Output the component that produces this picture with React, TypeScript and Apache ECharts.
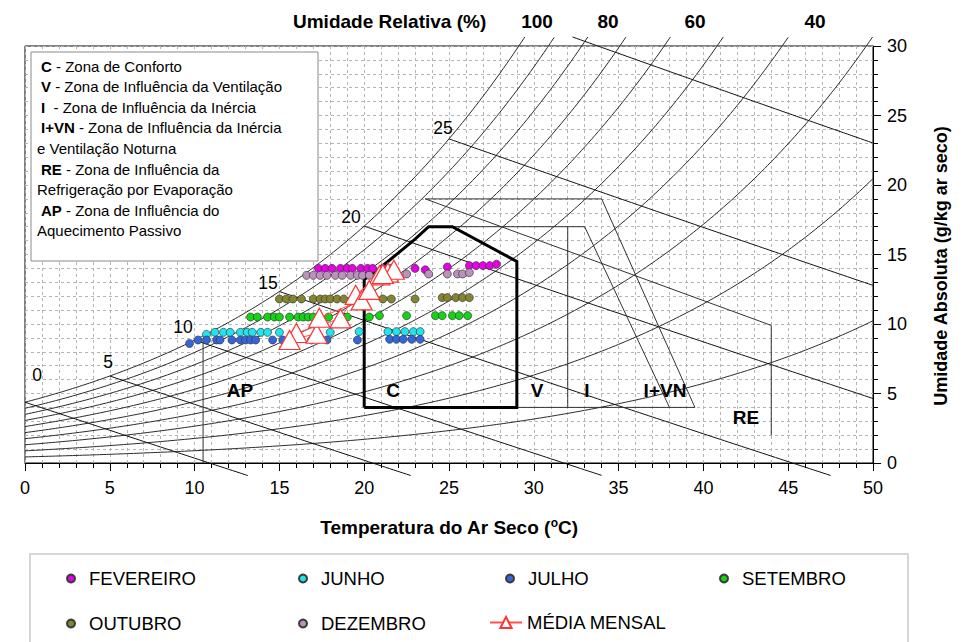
import React, { useEffect, useRef } from "react";
import * as echarts from "echarts";

const FONT = '"Liberation Sans", Arial, Helvetica, sans-serif';

// ---- psychrometric scale (chart background) ----
const PRESSURE_KPA = 87.5;
const rhLevels = [10, 20, 30, 40, 50, 60, 70, 80, 90, 100];
const wetBulbTemps = [0, 5, 10, 15, 20, 25, 30];
const wetBulbLabelTexts = ["0", "5", "10", "15", "20", "25"];
const rhTopLabelTexts = ["100", "80", "60", "40"];
const W_TOP = 30.65;
const W_BOTTOM = -0.9;

// ---- zones of the bioclimatic chart [T (°C), w (g/kg)] ----
const comfortZone = [[20, 4], [29, 4], [29, 14.5], [25.2, 17], [23.8, 17], [23, 16.1], [22, 15.1], [21, 14.1], [20, 13.2], [20, 4]];
const zoneVLine = [[32, 17], [32, 4]];
const zoneILine = [[25.2, 17], [33, 17], [38, 4]];
const zoneIVNLine = [[23.6, 19], [34, 19], [39.5, 4]];
const zoneBaseLine = [[29, 4], [39.5, 4]];
const zoneRELine = [[23.6, 19], [44, 9.9], [44, 2]];
const zoneAPLine = [[10.5, 0], [10.5, 8.7]];

// ---- monthly hourly data [T, w] ----
const fevereiro = [[17.3, 14.0], [17.7, 14.0], [18.1, 14.0], [18.6, 14.0], [19.0, 14.0], [19.3, 14.0], [19.8, 14.0], [20.2, 14.0], [20.5, 14.0], [21.1, 14.0], [21.6, 14.0], [23.0, 14.0], [23.6, 13.9], [24.9, 14.1], [26.2, 14.2], [26.6, 14.2], [27.0, 14.2], [27.4, 14.2], [27.8, 14.3]];
const junho = [[10.7, 9.25], [11.2, 9.4], [11.7, 9.4], [12.1, 9.4], [12.7, 9.4], [13.1, 9.4], [13.4, 9.4], [13.9, 9.4], [14.3, 9.4], [15.0, 9.4], [16.0, 9.4], [18.0, 9.4], [19.7, 9.45], [21.4, 9.45], [21.9, 9.45], [22.4, 9.45], [22.9, 9.45], [23.3, 9.45]];
const julho = [[9.7, 8.6], [10.2, 8.85], [10.7, 8.85], [11.3, 8.85], [11.5, 8.85], [12.2, 8.85], [12.7, 8.85], [13.0, 8.85], [13.3, 8.85], [13.6, 8.85], [14.6, 8.85], [15.2, 8.85], [16.9, 8.85], [17.8, 8.85], [19.6, 8.85], [21.5, 8.9], [21.9, 8.9], [22.3, 8.9], [22.8, 8.9], [23.3, 8.9]];
const setembro = [[13.3, 10.5], [13.7, 10.5], [14.3, 10.5], [14.7, 10.5], [15.0, 10.5], [15.6, 10.5], [16.1, 10.5], [16.4, 10.5], [16.7, 10.5], [17.0, 10.5], [17.9, 10.5], [19.0, 10.5], [20.3, 10.5], [20.9, 10.6], [22.5, 10.6], [24.2, 10.6], [24.6, 10.6], [25.2, 10.6], [25.6, 10.6], [26.1, 10.6]];
const outubro = [[15.0, 11.8], [15.4, 11.8], [15.8, 11.8], [16.3, 11.8], [17.0, 11.8], [17.4, 11.8], [17.7, 11.8], [18.0, 11.8], [18.4, 11.8], [18.8, 11.8], [19.3, 11.8], [21.1, 11.8], [21.6, 11.8], [23.0, 11.8], [24.6, 11.9], [24.9, 11.9], [25.4, 11.9], [25.8, 11.9], [26.2, 11.9]];
const dezembro = [[16.6, 13.5], [17.0, 13.5], [17.4, 13.5], [17.8, 13.5], [18.3, 13.5], [18.7, 13.5], [19.2, 13.5], [19.6, 13.5], [19.9, 13.5], [20.3, 13.5], [20.8, 13.5], [22.5, 13.6], [23.8, 13.6], [24.9, 13.6], [25.5, 13.6], [25.8, 13.6], [26.2, 13.7]];
const mediaMensal = [[21.4, 13.7], [21.75, 13.9], [20.9, 13.5], [19.5, 12.1], [18.6, 10.4], [16.0, 9.35], [15.6, 8.85], [17.2, 9.3], [17.35, 10.45], [19.85, 11.7], [20.3, 12.45], [21.1, 13.6]];

const monthNames = ["FEVEREIRO", "JUNHO", "JULHO", "SETEMBRO", "OUTUBRO", "DEZEMBRO"];
const monthData = [fevereiro, junho, julho, setembro, outubro, dezembro];
const monthColors = ["#e600e6", "#1ee6ee", "#3366dd", "#11d611", "#858530", "#bb92bb"];
const mediaName = "MÉDIA MENSAL";

const zoneLegendLines = [
  ["C", " - Zona de Conforto"],
  ["V", " - Zona de Influência da Ventilação"],
  ["I", "  - Zona de Influência da Inércia"],
  ["I+VN", " - Zona de Influência da Inércia"],
  ["", "e Ventilação Noturna"],
  ["RE", " - Zona de Influência da"],
  ["", "Refrigeração por Evaporação"],
  ["AP", " - Zona de Influência do"],
  ["", "Aquecimento Passivo"],
];
const zoneLabels = ["AP", "C", "V", "I", "I+VN", "RE"];

// ---- helpers ----
function satPressure(t: number) {
  return 0.61094 * Math.exp((17.625 * t) / (t + 243.04));
}
function satHumidity(t: number) {
  const ps = satPressure(t);
  return (622 * ps) / (PRESSURE_KPA - ps);
}
function rhCurve(phi: number) {
  const pts: number[][] = [];
  for (let i = 0; i <= 250; i++) {
    const t = i * 0.2;
    const w = (phi / 100) * satHumidity(t);
    if (w > W_TOP) {
      const prev = pts[pts.length - 1];
      const f = (W_TOP - prev[1]) / (w - prev[1]);
      pts.push([prev[0] + f * (t - prev[0]), W_TOP]);
      break;
    }
    pts.push([t, w]);
  }
  return pts;
}
function wetBulbW(twb: number, t: number) {
  const wsStar = satHumidity(twb) / 1000;
  return (((2501 - 2.326 * twb) * wsStar - 1.006 * (t - twb)) / (2501 + 1.86 * t - 4.186 * twb)) * 1000;
}
function wetBulbLine(twb: number) {
  const pts: number[][] = [];
  let prev: number[] | null = null;
  for (let t = twb; t <= 50.0001; t += 0.25) {
    const w = wetBulbW(twb, t);
    if (w > W_TOP) { prev = [t, w]; continue; }
    if (pts.length === 0 && prev) {
      const f = (prev[1] - W_TOP) / (prev[1] - w);
      pts.push([prev[0] + f * (t - prev[0]), W_TOP]);
    }
    if (w < W_BOTTOM) {
      const p = pts[pts.length - 1];
      const f = (p[1] - W_BOTTOM) / (p[1] - w);
      pts.push([p[0] + f * (t - p[0]), W_BOTTOM]);
      break;
    }
    pts.push([t, w]);
  }
  return pts;
}

export default function App() {
  const ref = useRef<HTMLDivElement>(null);
  useEffect(() => {
    if (!ref.current) return;
    const chart = echarts.init(ref.current, null, { renderer: "svg" });

    const curveBase = {
      type: "line",
      silent: true,
      symbol: "none",
      showSymbol: false,
      clip: false,
      z: 2,
    };
    const series: any[] = [];
    rhLevels.forEach((phi) =>
      series.push({ ...curveBase, data: rhCurve(phi), lineStyle: { color: "#2a2a2a", width: 1 } })
    );
    wetBulbTemps.forEach((twb) =>
      series.push({ ...curveBase, data: wetBulbLine(twb), lineStyle: { color: "#111", width: 1 } })
    );
    [zoneVLine, zoneILine, zoneIVNLine, zoneBaseLine, zoneRELine, zoneAPLine].forEach((z) =>
      series.push({ ...curveBase, data: z, lineStyle: { color: "#333", width: 1 } })
    );
    series.push({ ...curveBase, data: comfortZone, z: 3, lineStyle: { color: "#000", width: 3, join: "miter" } });

    monthNames.forEach((name, i) =>
      series.push({
        name,
        type: "scatter",
        data: monthData[i],
        symbol: "circle",
        symbolSize: 8,
        z: 5,
        itemStyle: { color: monthColors[i], borderColor: "#3a3a3a", borderWidth: 0.7, opacity: 1 },
      })
    );
    series.push({
      name: mediaName,
      type: "line",
      data: mediaMensal,
      symbol: "triangle",
      symbolSize: [21, 19],
      showSymbol: true,
      z: 6,
      itemStyle: { color: "#ffffff", borderColor: "#ff3333", borderWidth: 1.2 },
      lineStyle: { color: "#ff5050", width: 1 },
    });

    const legendCommon = {
      orient: "horizontal",
      itemGap: 0,
      padding: 0,
      selectedMode: false,
      textStyle: { fontSize: 18.5, color: "#000", fontFamily: FONT },
    };
    const legendPos = [
      [66, 569], [298, 569], [505, 569], [719, 569],
      [66, 614], [298, 614],
    ];
    const legends: any[] = monthNames.map((name, i) => ({
      ...legendCommon,
      data: [name],
      left: legendPos[i][0],
      top: legendPos[i][1],
      itemWidth: 8,
      itemHeight: 8,
      textStyle: { ...legendCommon.textStyle, padding: [0, 0, 0, 9] },
    }));
    legends.push({
      ...legendCommon,
      data: [mediaName],
      left: 489,
      top: 613,
      itemWidth: 32,
      itemHeight: 14,
    });

    const wbLabelPos = [[37, 375], [108, 362], [183, 327], [268, 283], [351, 217], [443, 128]];
    const rhLabelX = [537, 608, 695, 815];
    const zoneLabelPos = [[240, 390], [393, 390], [537, 390], [587, 390], [665, 390], [746, 417]];

    const graphic: any[] = [];
    // left legend box
    graphic.push({
      type: "rect",
      shape: { x: 31, y: 52, width: 287, height: 209 },
      style: { fill: "#fff", stroke: "#8a8a8a", lineWidth: 1 },
      z: 100,
    });
    zoneLegendLines.forEach((ln, i) => {
      graphic.push({
        type: "text",
        x: ln[0] ? 41 : 37,
        y: 66 + i * 20.6,
        z: 101,
        style: {
          text: (ln[0] ? "{b|" + ln[0] + "}" : "") + ln[1],
          font: `15px ${FONT}`,
          fill: "#000",
          verticalAlign: "middle",
          rich: { b: { fontWeight: "bold", fontSize: 15, fontFamily: FONT, fill: "#000" } },
        },
      });
    });
    // bottom legend box
    graphic.push({
      type: "rect",
      shape: { x: 30, y: 554, width: 878, height: 100 },
      style: { fill: "#fff", stroke: "#d6d6d6", lineWidth: 2 },
      z: -1,
    });
    wetBulbLabelTexts.forEach((t, i) =>
      graphic.push({
        type: "text",
        x: wbLabelPos[i][0],
        y: wbLabelPos[i][1],
        z: 50,
        style: { text: t, font: `17.5px ${FONT}`, fill: "#000", align: "center", verticalAlign: "middle" },
      })
    );
    graphic.push({
      type: "text",
      x: 293,
      y: 21,
      style: { text: "Umidade Relativa (%)", font: `bold 19px ${FONT}`, fill: "#000", align: "left", verticalAlign: "middle" },
    });
    rhTopLabelTexts.forEach((t, i) =>
      graphic.push({
        type: "text",
        x: rhLabelX[i],
        y: 21,
        style: { text: t, font: `bold 19px ${FONT}`, fill: "#000", align: "center", verticalAlign: "middle" },
      })
    );
    zoneLabels.forEach((t, i) =>
      graphic.push({
        type: "text",
        x: zoneLabelPos[i][0],
        y: zoneLabelPos[i][1],
        z: 50,
        style: { text: t, font: `bold 19px ${FONT}`, fill: "#000", align: "center", verticalAlign: "middle" },
      })
    );
    // right axis title
    graphic.push({
      type: "text",
      x: 941,
      y: 266,
      rotation: Math.PI / 2,
      style: {
        text: "Umidade Absoluta (g/kg ar seco)",
        font: `bold 18px ${FONT}`,
        fill: "#000",
        align: "center",
        verticalAlign: "middle",
      },
    });

    const dashed = { color: "#b4b4b4", type: [3, 3], width: 1 };
    chart.setOption({
      animation: false,
      backgroundColor: "#fff",
      textStyle: { fontFamily: FONT },
      grid: { left: 25, right: 93, top: 46, bottom: 179, show: true, borderColor: "#000", borderWidth: 1 },
      xAxis: {
        type: "value",
        min: 0,
        max: 50,
        interval: 5,
        axisLine: { show: true, onZero: false, lineStyle: { color: "#000", width: 1 } },
        axisTick: { show: true, length: 8, lineStyle: { color: "#000" } },
        minorTick: { show: true, splitNumber: 5, length: 5, lineStyle: { color: "#000" } },
        splitLine: { show: true, lineStyle: dashed },
        minorSplitLine: { show: true, lineStyle: dashed },
        axisLabel: { fontSize: 18, color: "#000", margin: 16, fontFamily: FONT },
        name: "Temperatura do Ar Seco ({sup|o}C)",
        nameLocation: "middle",
        nameGap: 54,
        nameTextStyle: {
          fontSize: 19,
          fontWeight: "bold",
          color: "#000",
          fontFamily: FONT,
          rich: { sup: { fontSize: 12, fontWeight: "bold", color: "#000", fontFamily: FONT, padding: [0, 0, 9, 0] } },
        },
      },
      yAxis: {
        type: "value",
        position: "right",
        min: 0,
        max: 30,
        interval: 5,
        axisLine: { show: true, onZero: false, lineStyle: { color: "#000", width: 1 } },
        axisTick: { show: true, length: 8, lineStyle: { color: "#000" } },
        minorTick: { show: true, splitNumber: 5, length: 5, lineStyle: { color: "#000" } },
        splitLine: { show: true, lineStyle: dashed },
        minorSplitLine: { show: true, lineStyle: dashed },
        axisLabel: { fontSize: 18, color: "#000", margin: 14, fontFamily: FONT },
      },
      legend: legends,
      graphic,
      series,
    });
    return () => chart.dispose();
  }, []);
  return (
    <div
      ref={ref}
      style={{ position: "fixed", left: 0, top: 0, width: 966, height: 642, background: "#fff" }}
    />
  );
}
